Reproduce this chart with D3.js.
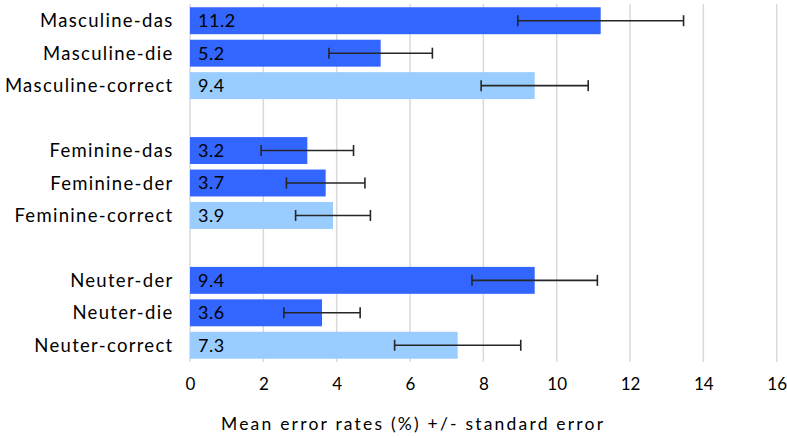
<!DOCTYPE html>
<html><head><meta charset="utf-8">
<script src="https://cdn.jsdelivr.net/npm/d3@7"></script>
<style>body{margin:0;background:#fff}svg{display:block}text{font-family:Lato,"Open Sans",sans-serif}</style>
</head><body><svg id="c" width="787" height="438"></svg>
<script>
const categories = ["Masculine-das","Masculine-die","Masculine-correct","","Feminine-das","Feminine-der","Feminine-correct"," ","Neuter-der","Neuter-die","Neuter-correct"];
const values     = [11.2, 5.2, 9.4, null, 3.2, 3.7, 3.9, null, 9.4, 3.6, 7.3];
const errors     = [2.26, 1.41, 1.46, null, 1.26, 1.07, 1.02, null, 1.71, 1.04, 1.72];
const kinds      = ["wrong","wrong","correct",null,"wrong","wrong","correct",null,"wrong","wrong","correct"];
const xTicks = [0,2,4,6,8,10,12,14,16];
const axisTitle = "Mean error rates (%) +/- standard error";

const svg = d3.select("#c");
const x = d3.scaleLinear().domain([0,16]).range([190,776.7]);
const y = d3.scaleBand().domain(categories).range([4.5,361.5]).paddingInner(0.17).paddingOuter(0.085);
const color = d3.scaleOrdinal().domain(["wrong","correct"]).range(["#3366ff","#99ccff"]);

svg.append("g").selectAll("line").data(xTicks).join("line")
  .attr("x1",d=>x(d)).attr("x2",d=>x(d)).attr("y1",4).attr("y2",362)
  .attr("stroke","#d9d9d9").attr("stroke-width",1.5);

const rows = categories.map((c,i)=>({c,v:values[i],e:errors[i],k:kinds[i]})).filter(d=>d.v!=null);

svg.append("g").selectAll("rect").data(rows).join("rect")
  .attr("x",x(0)).attr("y",d=>y(d.c)).attr("width",d=>x(d.v)-x(0)).attr("height",y.bandwidth())
  .attr("fill",d=>color(d.k));

svg.append("g").selectAll("text").data(rows).join("text")
  .attr("x",x(0)+8).attr("y",d=>y(d.c)+y.bandwidth()/2).attr("dy","0.36em")
  .attr("font-size",18).attr("letter-spacing","0.5px").attr("fill","#000").text(d=>d.v.toFixed(1));

const eb = svg.append("g").attr("stroke","#262626").attr("stroke-width",1.6);
rows.forEach(d=>{
  const cy = y(d.c)+y.bandwidth()/2;
  eb.append("line").attr("x1",x(d.v-d.e)).attr("x2",x(d.v+d.e)).attr("y1",cy).attr("y2",cy);
  [d.v-d.e,d.v+d.e].forEach(v=>eb.append("line").attr("x1",x(v)).attr("x2",x(v)).attr("y1",cy-5.5).attr("y2",cy+5.5));
});

svg.append("g").selectAll("text").data(rows).join("text")
  .attr("x",173.5).attr("y",d=>y(d.c)+y.bandwidth()/2).attr("dy","0.36em")
  .attr("text-anchor","end").attr("font-size",18.5).attr("letter-spacing","1.3px").attr("fill","#000").text(d=>d.c);

const xAxis = d3.axisBottom(x).tickValues(xTicks).tickSize(0).tickPadding(0);
const ga = svg.append("g").attr("transform","translate(0,384)").call(xAxis);
ga.select(".domain").remove();
ga.selectAll("text").attr("font-size",17).attr("fill","#000").attr("dy","0.36em").attr("y",0);

svg.append("text").attr("x",221).attr("y",424).attr("dy","0.36em").attr("text-anchor","start")
  .attr("font-size",17.5).attr("letter-spacing","2.2px").attr("fill","#000").text(axisTitle);
</script></body></html>
